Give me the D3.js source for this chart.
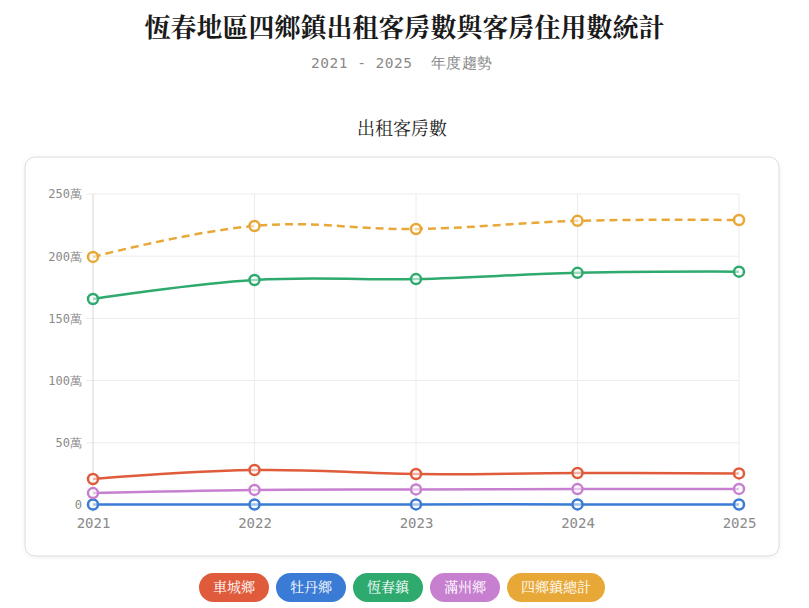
<!DOCTYPE html>
<html><head><meta charset="utf-8">
<script src="https://cdn.jsdelivr.net/npm/d3@7/dist/d3.min.js"></script>
<style>
html,body{margin:0;padding:0;background:#fff;}
svg{display:block;}
</style></head>
<body><svg id="c" width="809" height="608"></svg>
<script>
const years = ["2021","2022","2023","2024","2025"];
const seriesNames = ["車城鄉","牡丹鄉","恆春鎮","滿州鄉","四鄉鎮總計"];
const seriesColors = ["#e05b3c","#3a7bd6","#2eaa6e","#c77fd0","#e8a838"];
const cheCheng = [20.9, 28.1, 24.9, 25.7, 25.4];
const mudan = [0.4, 0.4, 0.5, 0.5, 0.4];
const hengchun = [165.6, 180.9, 181.6, 186.6, 187.6];
const manzhou = [9.6, 12.1, 12.5, 12.8, 12.9];
const total = [199.4, 224.3, 221.9, 228.4, 229.1];
const yTicks = [0, 50, 100, 150, 200, 250];
const title = "恆春地區四鄉鎮出租客房數與客房住用數統計";
const subtitle = "2021 - 2025  年度趨勢";
const chartTitle = "出租客房數";

const seriesValues = [cheCheng, mudan, hengchun, manzhou, total];
const dashed = [false,false,false,false,true];

const svg = d3.select("#c");
const serif = "'Noto Serif CJK TC','Noto Serif CJK SC',serif";
const mono = "'DejaVu Sans Mono','Liberation Mono',monospace";

svg.append("text").attr("x",404.5).attr("y",37).attr("text-anchor","middle")
  .attr("font-family",serif).attr("font-weight","bold").attr("font-size",26).attr("fill","#1a1a1a").text(title);
svg.append("text").attr("x",402).attr("y",68).attr("text-anchor","middle")
  .attr("font-family",mono).attr("font-size",14.5).attr("letter-spacing",0.5).attr("fill","#8a8a8a")
  .attr("xml:space","preserve").style("white-space","pre").text(subtitle);
svg.append("text").attr("x",402).attr("y",135).attr("text-anchor","middle")
  .attr("font-family",serif).attr("font-size",18).attr("fill","#222").text(chartTitle);

const defs = svg.append("defs");
const f = defs.append("filter").attr("id","sh").attr("x","-5%").attr("y","-5%").attr("width","110%").attr("height","115%");
f.append("feDropShadow").attr("dx",0).attr("dy",1).attr("stdDeviation",2).attr("flood-color","#000").attr("flood-opacity",0.06);
svg.append("rect").attr("x",25).attr("y",157).attr("width",754).attr("height",399).attr("rx",10)
  .attr("fill","#fff").attr("stroke","#dcdcdc").attr("stroke-width",1).attr("filter","url(#sh)");

const x = d3.scalePoint().domain(years).range([93,739]);
const y = d3.scaleLinear().domain([0,250]).range([505,194]);

const g = svg.append("g");
g.selectAll(".hg").data(yTicks).join("line")
  .attr("x1",86).attr("x2",739).attr("y1",d=>y(d)).attr("y2",d=>y(d))
  .attr("stroke","#ececec").attr("stroke-width",1);
g.selectAll(".vg").data(years).join("line")
  .attr("x1",d=>x(d)).attr("x2",d=>x(d)).attr("y1",194).attr("y2",512)
  .attr("stroke",(d,i)=>i===0?"#d6d6d6":"#ececec").attr("stroke-width",1);

const yAxis = d3.axisLeft(y).tickValues(yTicks).tickSize(0).tickPadding(11)
  .tickFormat(d=>d===0?"0":d+"萬");
const ya = svg.append("g").attr("transform","translate(93,0)").call(yAxis);
ya.select(".domain").remove();
ya.selectAll("text").attr("font-family",mono).attr("font-size",12).attr("fill","#8a8a8a");

const xAxis = d3.axisBottom(x).tickSize(0).tickPadding(11);
const xa = svg.append("g").attr("transform","translate(0,507)").call(xAxis);
xa.select(".domain").remove();
xa.selectAll("text").attr("font-family",mono).attr("font-size",14).attr("fill","#8a8a8a");

const line = d3.line().x((d,i)=>x(years[i])).y(d=>y(d)).curve(d3.curveCardinal.tension(-0.2));

seriesValues.forEach((vals,si)=>{
  svg.append("path").datum(vals).attr("d",line).attr("fill","none")
    .attr("stroke",seriesColors[si]).attr("stroke-width",2.5)
    .attr("stroke-dasharray",dashed[si]?"8,5":null);
});
seriesValues.forEach((vals,si)=>{
  svg.append("g").selectAll("circle").data(vals).join("circle")
    .attr("cx",(d,i)=>x(years[i])).attr("cy",d=>y(d)).attr("r",5)
    .attr("fill","#fff").attr("fill-opacity",0.55)
    .attr("stroke",seriesColors[si]).attr("stroke-width",2.5);
});

const lg = svg.append("g");
const items = lg.selectAll("g").data(seriesNames).join("g");
items.append("text").text(d=>d).attr("font-family",serif)
  .attr("font-size",14).attr("fill","#fff").attr("text-anchor","middle").attr("y",592);
const widths = [];
items.each(function(){ widths.push(this.querySelector("text").getComputedTextLength()+28); });
const gap = 7;
const totalW = d3.sum(widths)+gap*(widths.length-1);
let cx = 402 - totalW/2;
items.each(function(d,i){
  const w = widths[i];
  const gg = d3.select(this);
  gg.insert("rect","text").attr("x",cx).attr("y",573).attr("width",w).attr("height",29).attr("rx",14.5)
    .attr("fill",seriesColors[i]);
  gg.select("text").attr("x",cx+w/2);
  cx += w+gap;
});
</script></body></html>
